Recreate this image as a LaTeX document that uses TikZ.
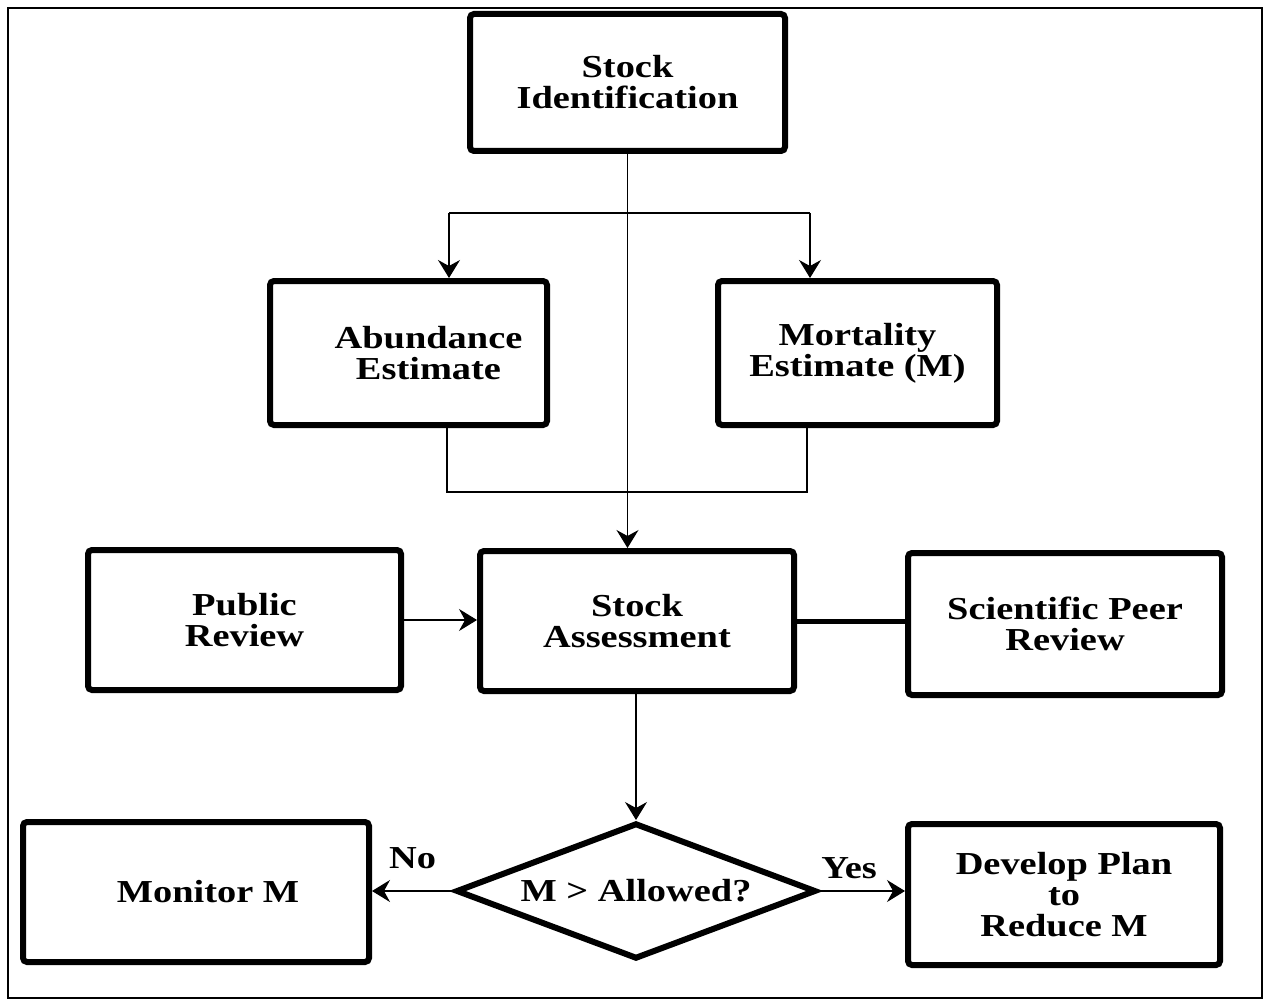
\documentclass[tikz,border=0pt]{standalone}
\usepackage{fontspec}
\setmainfont{Liberation Serif}[FakeStretch=1.2]
\usetikzlibrary{arrows.meta,shapes.geometric}

\begin{document}
\begin{tikzpicture}[x=0.5pt,y=-0.5pt,>={Stealth[length=9pt,width=11pt,inset=3pt]},
                    font=\bfseries\fontsize{16}{15.5}\selectfont]
  \tikzstyle{block}=[rectangle,draw=black,line width=3pt,rounded corners=2pt,align=center,inner sep=0pt]
  \tikzstyle{decision}=[diamond,draw=black,line width=3pt,aspect=2.65,inner sep=0pt]
  \tikzstyle{link}=[line width=0.6pt]
  \tikzstyle{tie}=[line width=2.5pt]

  \useasboundingbox (0,0) rectangle (1267,1000);
  \draw[line width=1pt] (8,8) rectangle (1262,998);

  \node[block,minimum width=157.5pt,minimum height=68.5pt] (sid)   at (627.5,82.5) {Stock\\Identification};
  \node[block,minimum width=138.5pt,minimum height=72pt]   (abund) at (408.5,353)  {\hspace*{20pt}Abundance\\\hspace*{20pt}Estimate};
  \node[block,minimum width=139.5pt,minimum height=72pt]   (mort)  at (857.5,353)  {Mortality\\Estimate (M)};
  \node[block,minimum width=156.5pt,minimum height=70pt]   (pub)   at (244.5,620)  {Public\\Review};
  \node[block,minimum width=157pt,minimum height=70pt]     (sa)    at (637,621)    {Stock\\Assessment};
  \node[block,minimum width=157pt,minimum height=71pt]     (peer)  at (1065,624)   {Scientific Peer\\Review};
  \node[decision,minimum width=180pt,minimum height=68pt]  (dec)   at (636,891)    {M > Allowed?};
  \node[block,minimum width=173pt,minimum height=70pt]     (mon)   at (196,892)    {\hspace*{12pt}Monitor M};
  \node[block,minimum width=156pt,minimum height=70.5pt]   (dev)   at (1064,894.5) {Develop Plan\\to\\Reduce M};

  % branch and join lines
  \coordinate (brl) at (449,213);
  \coordinate (brr) at (810,213);
  \coordinate (jnl) at (447,492);
  \coordinate (jnr) at (807,492);

  \draw[link] (brl) -- (brr);
  \draw[link] (abund.south -| jnl) -- (jnl) -- (jnr) -- (mort.south -| jnr);
  \draw[tie] (sa.east) -- (sa.east -| peer.west);

  \path[link,->]
(sid.south) edge (sid.south |- sa.north)
(brl) edge (brl |- abund.north)
(brr) edge (brr |- mort.north)
(pub.east) edge (pub.east -| sa.west)
(dec.north |- sa.south) edge (dec.north)
(dec.west) edge node[above=7.5pt] {No} (dec.west -| mon.east)
(dec.east) edge node[above=2.5pt,pos=0.35] {Yes} (dec.east -| dev.west);
\end{tikzpicture}
\end{document}
